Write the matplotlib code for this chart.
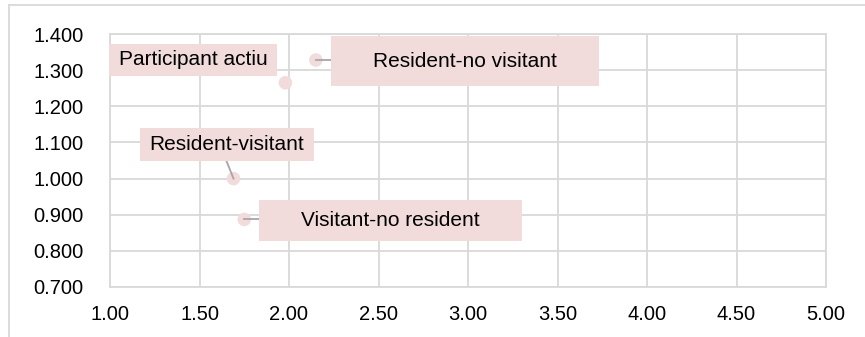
import matplotlib
matplotlib.use('Agg')
import matplotlib.pyplot as plt
from matplotlib.patches import Rectangle
from matplotlib.lines import Line2D

plt.rcParams['font.family'] = ['Liberation Sans', 'DejaVu Sans']

# dades
groups = ['Participant actiu', 'Resident-no visitant', 'Resident-visitant', 'Visitant-no resident']
x_vals = [1.98, 2.15, 1.69, 1.75]
y_vals = [1.265, 1.328, 1.000, 0.887]

x_ticks = [1.0, 1.5, 2.0, 2.5, 3.0, 3.5, 4.0, 4.5, 5.0]
y_ticks = [0.7, 0.8, 0.9, 1.0, 1.1, 1.2, 1.3, 1.4]

W, H = 865, 337
fill = '#F2DCDB'
grid_col = '#D9D9D9'
lead_col = '#A6A6A6'

# caixes d'etiqueta: desplaçament del centre respecte al punt (px), mida (px), línia guia
label_box = {
    'Participant actiu': (-92, 23, 168, 32, None),
    'Resident-no visitant': (149, -1, 268, 50, 'left'),
    'Resident-visitant': (-7, 34, 174, 33, 'bottom'),
    'Visitant-no resident': (146, -1, 263, 41, 'left'),
}

fig = plt.figure(figsize=(W / 100, H / 100), dpi=100)
ax = fig.add_axes([110 / W, 1 - 287 / H, 716 / W, 253 / H])

ax.set_xlim(1.0, 5.0)
ax.set_ylim(0.7, 1.4)
ax.set_xticks(x_ticks)
ax.set_yticks(y_ticks)
ax.set_xticklabels([f'{v:.2f}' for v in x_ticks])
ax.set_yticklabels([f'{v:.3f}' for v in y_ticks])
ax.tick_params(length=0, labelsize=14.5, colors='#000000')
ax.tick_params(axis='y', pad=19)
ax.tick_params(axis='x', pad=13)
ax.grid(True, color=grid_col, linewidth=1.3)
ax.set_axisbelow(True)
for s in ax.spines.values():
    s.set_color(grid_col)
    s.set_linewidth(1.3)

ax.scatter(x_vals, y_vals, s=95, color=fill, edgecolors='none', zorder=5, clip_on=False)

# etiquetes amb caixa
fig.canvas.draw()
for name, x, y in zip(groups, x_vals, y_vals):
    dx, dy, bw, bh, lead = label_box[name]
    px, py = ax.transData.transform((x, y))
    cx, cy = px + dx, py + dy
    fig.patches.append(Rectangle((cx - bw / 2, cy - bh / 2), bw, bh, transform=None,
                                 facecolor=fill, edgecolor='none', zorder=2))
    fig.text(cx / W, cy / H, name, ha='center', va='center', fontsize=15, zorder=3)
    if lead == 'left':
        fig.add_artist(Line2D([cx - bw / 2, px], [py, py], transform=None,
                              color=lead_col, linewidth=1.3, zorder=1))
    elif lead == 'bottom':
        fig.add_artist(Line2D([cx, px], [cy - bh / 2, py], transform=None,
                              color=lead_col, linewidth=1.3, zorder=1))

# vora del gràfic
fig.add_artist(Line2D([9, W], [H - 5, H - 5], transform=None, color=grid_col, linewidth=1.3))
fig.add_artist(Line2D([9, 9], [H - 5, 0], transform=None, color=grid_col, linewidth=1.3))

fig.savefig('out.png', dpi=100)
